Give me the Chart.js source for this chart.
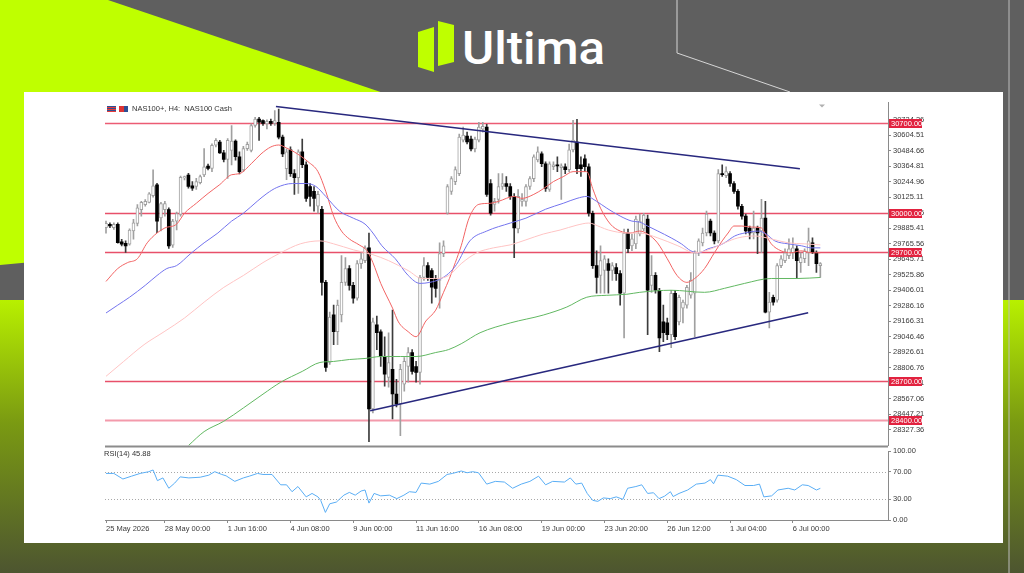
<!DOCTYPE html>
<html><head><meta charset="utf-8">
<script src="https://cdn.jsdelivr.net/npm/chart.js@4.4.1/dist/chart.umd.min.js"></script>
<style>
html,body{margin:0;padding:0;width:1024px;height:573px;overflow:hidden;background:#5f5f5f;}
#bg{position:absolute;left:0;top:0;}
#panel{position:absolute;left:24px;top:92px;width:979px;height:451px;background:#fff;}
canvas{position:absolute;}
#mainChart{left:100px;top:96px;}
#rsiChart{left:100px;top:442px;}
.t{position:absolute;font-family:"Liberation Sans",Arial,sans-serif;font-size:7.5px;color:#333;white-space:nowrap;line-height:8px;}
.ic{position:absolute;width:9px;height:6px;}
</style></head><body>
<svg id="bg" width="1024" height="573" xmlns="http://www.w3.org/2000/svg">
<defs>
<linearGradient id="fade" x1="0" y1="0" x2="0" y2="1">
<stop offset="0" stop-color="#b8f000"/>
<stop offset="0.45" stop-color="#7a9a12"/>
<stop offset="1" stop-color="#4d5530"/>
</linearGradient>
</defs>
<rect x="0" y="0" width="1024" height="573" fill="#5f5f5f"/>
<polygon points="0,0 108,0 700,200 0,265" fill="#bfff00"/>
<polygon points="0,300 1024,300 1024,573 0,573" fill="url(#fade)"/>
<polyline points="677,0 677,53 790,92" fill="none" stroke="#d6d6d6" stroke-width="1"/>
<line x1="1009" y1="0" x2="1009" y2="573" stroke="#bdbdbd" stroke-width="1"/>
<polygon points="418,32 434,27 434,72 418,67" fill="#bfff00"/>
<polygon points="438,21 454,25 454,62 438,66" fill="#bfff00"/>
<text x="462" y="64" font-family="Roboto, 'Open Sans', sans-serif" font-weight="500" font-size="46" fill="#ffffff" textLength="143" lengthAdjust="spacingAndGlyphs">Ultima</text>
</svg>
<div id="panel"></div>
<canvas id="mainChart" width="850" height="356"></canvas>
<canvas id="rsiChart" width="850" height="100"></canvas>
<div class="ic" style="left:107px;top:106px;background:repeating-linear-gradient(#2d4f93 0 1px,#e53b3b 1px 2px);"></div>
<div class="ic" style="left:119px;top:106px;background:linear-gradient(90deg,#d33 0 50%,#2d4f93 50% 100%);"></div>
<div class="t" style="left:132px;top:105px;">NAS100+, H4:&nbsp; NAS100 Cash</div>
<div class="t" style="left:104px;top:450px;">RSI(14) 45.88</div>
<script>
// ---------- DATA ----------
const barOpen = [29890,29916,29890,29916,29780,29770,29763,29865,29923,30030,
30069,30086,30138,30222,29966,30030,30030,29755,29941,29992,
30275,30298,30214,30209,30239,30298,30367,30349,30528,30553,
30469,30418,30489,30561,30439,30337,30502,30489,30681,30731,
30719,30693,30714,30698,30706,30591,30347,30492,30308,30278,
30477,30377,30209,30171,30056,30033,29467,28847,29215,29085,
29215,29467,29574,29444,29344,29612,29635,29735,28488,29138,
29085,28893,28732,28794,28603,28526,28679,28816,28924,28816,
28770,29505,29597,29559,29497,29482,29689,30002,30171,30247,
30308,30568,30599,30576,30500,30568,30652,30668,30232,30071,
30109,30209,30232,30209,30133,29880,30094,30094,30209,30270,
30415,30461,30385,30186,30362,30377,30354,30362,30339,30492,
30553,30377,30423,30362,30002,29597,29521,29559,29612,29559,
29581,29535,29383,29849,29750,29765,29841,29880,29956,29444,
29521,29406,29161,29153,29062,29383,29161,29268,29291,29368,
29383,29696,29773,29849,29941,29849,29788,30308,30293,30308,
30232,30171,30056,29980,29888,29849,29888,29865,29964,29237,
29352,29329,29597,29635,29674,29696,29727,29620,29650,29696,
29773,29696,29597];
const barHigh = [29941,29928,29928,29928,29801,29788,29882,29954,30069,30094,
30107,30162,30337,30234,30086,30094,30043,29954,30010,30290,
30290,30311,30247,30272,30298,30502,30382,30540,30579,30566,
30489,30579,30681,30571,30477,30520,30553,30693,30745,30745,
30724,30724,30731,30796,30808,30607,30500,30515,30339,30492,
30576,30400,30232,30209,30171,30056,29482,29237,29291,29329,
29674,29658,29597,29467,29635,29696,29750,29849,29191,29207,
29100,29046,29077,29253,28717,28832,28885,28962,28947,28855,
29521,29658,29620,29574,29521,29773,29788,30224,30286,30362,
30614,30668,30630,30599,30591,30706,30706,30691,30262,30117,
30308,30308,30286,30232,30155,30186,30155,30224,30286,30454,
30515,30477,30400,30400,30400,30439,30385,30385,30538,30721,
30729,30439,30454,30385,30018,29712,29750,29674,29650,29620,
29612,29559,29880,29880,29841,29980,29995,30002,29987,29674,
29543,29421,29291,29191,29406,29406,29368,29329,29444,29543,
29712,29803,29888,30018,29956,29865,30339,30377,30362,30324,
30247,30186,30071,29995,29903,30018,29903,30109,30094,29390,
29368,29612,29674,29727,29803,29811,29750,29696,29727,29888,
29811,29712,29620];
const barLow = [29847,29890,29877,29770,29750,29699,29755,29801,29903,29980,
30056,30081,30127,29852,29865,29980,29729,29737,29872,29980,
30259,30196,30179,30186,30229,30285,30337,30324,30515,30464,
30400,30272,30375,30413,30306,30324,30489,30477,30668,30566,
30681,30655,30681,30681,30578,30439,30262,30286,30148,30155,
30354,30094,30056,30018,30002,29368,28778,28832,28985,28985,
29161,29444,29406,29306,29329,29574,29620,28235,28457,28947,
28816,28663,28656,28411,28503,28281,28625,28694,28756,28694,
28679,29482,29482,29306,29352,29268,29666,29995,30148,30224,
30293,30553,30538,30484,30477,30553,30630,30133,29987,30018,
30079,30186,30171,30109,29658,29849,30056,30056,30186,30247,
30400,30362,30171,30171,30339,30324,30109,30308,30324,30477,
30308,30286,30324,29980,29574,29383,29383,29383,29383,29482,
29482,29291,29038,29696,29712,29727,29827,29865,29062,29390,
29383,28931,29008,29023,28962,29023,29138,29153,29268,29344,
29046,29674,29750,29827,29827,29765,29773,30286,30278,30209,
30155,30033,29956,29841,29803,29803,29689,29696,29230,29115,
29291,29314,29581,29620,29650,29650,29497,29543,29620,29597,
29689,29543,29505];
const barClose = [29923,29903,29916,29775,29763,29750,29872,29928,30043,30086,
30094,30153,30214,29941,30076,30076,29750,29941,30000,30280,
30285,30209,30196,30247,30285,30362,30349,30528,30566,30469,
30418,30566,30561,30439,30324,30502,30535,30681,30731,30706,
30698,30714,30698,30719,30591,30461,30477,30308,30278,30477,
30377,30117,30133,30117,30148,29467,28809,29199,29085,29291,
29467,29574,29444,29344,29612,29650,29735,28488,29161,29077,
28893,28756,28847,28603,28526,28794,28855,28924,28778,28770,
29505,29597,29505,29429,29421,29689,29750,30209,30270,30339,
30591,30607,30553,30500,30576,30668,30675,30148,30002,30094,
30209,30232,30209,30133,29888,30133,30109,30209,30270,30439,
30477,30385,30194,30385,30377,30369,30369,30339,30492,30568,
30346,30346,30362,30002,29597,29505,29635,29650,29559,29597,
29535,29383,29849,29727,29803,29956,29941,29987,29406,29521,
29406,29038,29077,29062,29383,29046,29352,29314,29429,29482,
29696,29788,29849,29995,29849,29788,30308,30300,30324,30232,
30171,30056,29980,29865,29849,29888,29849,29964,29237,29314,
29314,29597,29650,29696,29727,29735,29635,29658,29712,29788,
29696,29612,29612];

// moving averages (bar index, price)
const maRedX = [0,3,5.5,8,10.5,13,15,18,20,23,26,29,32,34,37,39.5,42,44,46,48,51.5,54,56,58,60,62,64.5,66.5,68,70,73,74.5,77,79,81.5,84,86,87.5,89,90.5,92.5,95,98,100,104,106,109,111.5,114,116.5,119,122.5,124,126,128.5,131,133.5,136,138,140.5,143,145.5,148,150,152.5,155,157,158.5,160,162,164.5,167,168,169.5,172,174.5,177,180,182];
const maRedY = [29474,29574,29620,29650,29773,29849,29888,29918,30002,30079,30155,30224,30300,30308,30385,30461,30515,30530,30507,30476,30400,30324,30171,29979,29864,29803,29757,29712,29620,29459,29268,29161,29085,29046,29168,29252,29390,29497,29620,29750,29964,30071,30079,30094,30132,30117,30148,30193,30247,30285,30324,30324,30193,30041,29918,29864,29849,29864,29841,29773,29650,29520,29467,29497,29574,29696,29788,29849,29903,29903,29895,29888,29841,29765,29711,29696,29711,29696,29696];
const maBlueX = [0,3,6,10,13,15.5,18,21.5,25,28.5,32,35,38.5,41,43.5,47.5,51,53.5,56,59.5,63,66,68,70.3,73.7,77,80,82.5,85,87.3,89.3,92.7,97,103,107,112,116.5,120,122.5,125,127.6,131,134,136,138,140.6,144,146.6,149,151,153.4,156,157.6,160.2,162.7,166.2,168.2,170.4,173.8,177.2,179.7,182];
const maBlueY = [29230,29291,29352,29444,29520,29574,29597,29688,29773,29849,29941,30002,30094,30155,30201,30232,30232,30209,30132,30018,29964,29918,29849,29750,29650,29520,29459,29467,29490,29536,29605,29788,29864,29926,29964,30033,30079,30117,30132,30094,30041,29980,29941,29933,29903,29864,29811,29765,29711,29696,29727,29750,29773,29826,29849,29864,29841,29788,29765,29750,29734,29734];
const maPinkX = [0,4.5,9.7,14.8,20,25,30,35,40,44.5,49.5,54.5,58,63,68,72,77,80.5,84,87.3,90.5,94.5,98.7,103,107,111.4,115.7,120,123,126,128,132.7,136,140.6,145.7,150,154.2,157.6,161,165.3,169.5,173.8,178,182];
const maPinkY = [28740,28855,28985,29085,29191,29314,29428,29520,29620,29696,29765,29788,29765,29719,29681,29635,29558,29497,29497,29520,29612,29696,29734,29757,29796,29841,29872,29910,29926,29895,29872,29849,29849,29811,29750,29696,29727,29773,29811,29826,29803,29773,29765,29757];
const maGreenX = [21,25,30,35,40,44.5,50,54.5,58,62,66,70,75,79,84,87.3,90.5,95.3,103,111.4,117.4,122.5,127.6,132.7,136,144,152.5,157.6,162.7,169.5,176.3,182];
const maGreenY = [28204,28312,28392,28495,28602,28694,28778,28847,28855,28870,28878,28893,28893,28893,28924,28947,28992,29077,29153,29214,29276,29352,29367,29375,29390,29406,29390,29421,29459,29497,29497,29505];

// trend lines (bar index, price)
const upperTrendX = [43.3, 176.8];
const upperTrendY = [30828, 30346];
const lowerTrendX = [67.3, 178.9];
const lowerTrendY = [28474, 29232];

// horizontal levels
const levelValues = [30700, 30000, 29700, 28700, 28400];

// price axis tick labels
const priceTicks = [28327.36,28447.21,28567.06,28686.91,28806.76,28926.61,29046.46,29166.31,29286.16,29406.01,29525.86,29645.71,29765.56,29885.41,30005.26,30125.11,30244.96,30364.81,30484.66,30604.51,30724.36];

// time axis
const timeTickBars = [0,15,31,47,63,79,95,111,127,143,159,175];
const timeTickLabels = ["25 May 2026","28 May 00:00","1 Jun 16:00","4 Jun 08:00","9 Jun 00:00","11 Jun 16:00","16 Jun 08:00","19 Jun 00:00","23 Jun 20:00","26 Jun 12:00","1 Jul 04:00","6 Jul 00:00"];

// RSI(14)
const rsiX = [0,2,4.3,6.5,8.7,10.9,12,13.1,14.5,16,17.5,18.9,21.1,24,26.2,27.7,29.5,30.6,32.8,35,36.5,38.6,40,42.3,44.5,46,47.4,48.9,51,52.5,54,54.7,55.9,57,58.7,60.6,62,63.5,65,66,67,68.3,70,72.2,74.1,75.9,77.3,79,80.3,82.5,84.7,86.9,88.3,90.5,92,93.4,94.9,97,99.2,101.5,103.6,105.8,108,110.2,112,113.8,116.8,118.3,119.7,121.2,122.6,124,125.3,126.7,128.5,130,131.7,132.9,135,136.5,138,139.5,140.9,142.3,143.8,144.5,146,148.2,150.4,152.6,154,154.8,155.9,158.4,160.6,162.8,165,166.5,167.6,169.6,171.2,173.8,175.5,177.4,178.9,181,182];
const rsiV = [67.5,67.5,59.4,63.5,67.5,70,72.5,57,61,46,53.5,62.5,61,62,65,70,66,64,56,61,63.5,67.5,66,66,51,51,41,48.5,33.5,38.5,33.5,28.5,11,23.5,26,36,40,36,42,43.5,24.5,38.5,35,36,31,36,41,40,53.5,52,56,66,67.5,71,68.5,70,68.5,52,56,55,46,52,56,63.5,51,56,55,61,52,53.5,38.5,28.5,27,32,31,33.5,30,46,48.5,51,38.5,39.5,31,34.5,41,34,38.5,43.5,52,53.5,58.5,52.5,65,63.5,58.5,50,50,52,33.5,35,43.5,46,43.5,51,50,43.5,45.88];
const rsiLevels = [30, 70];
const rsiTicks = [0, 30, 70, 100];

// ---------- CHARTS ----------
Chart.defaults.font.family = '"Liberation Sans", Arial, sans-serif';
Chart.defaults.font.size = 7.5;
Chart.defaults.color = '#3a3a3a';

const X_MIN = -0.255, X_MAX = 199.24;
const P_MIN = 28204.45, P_MAX = 30859;

const idx = barOpen.map((_, i) => i);
const bull = idx.filter(i => barClose[i] >= barOpen[i]);
const bear = idx.filter(i => barClose[i] < barOpen[i]);
const pts = (xs, ys) => xs.map((x, k) => ({x: x, y: ys[k]}));

const levelColors = ['#ec5c74', '#e8506a', '#e8506a', '#e8506a', '#f39aab'];
const levelWidths = [1.3, 1.3, 1.3, 1.3, 2];

const ds = [];
ds.push({type: 'bar', data: bull.map(i => ({x: i, y: [barLow[i], barHigh[i]]})), backgroundColor: '#a0a0a0',
  barThickness: 1, grouped: false, order: 30});
ds.push({type: 'bar', data: bear.map(i => ({x: i, y: [barLow[i], barHigh[i]]})), backgroundColor: '#3c3c3c',
  barThickness: 1, grouped: false, order: 30});
ds.push({type: 'bar', data: bull.map(i => ({x: i, y: [barOpen[i], barClose[i]]})), backgroundColor: '#ffffff',
  borderColor: '#a0a0a0', borderWidth: 1, borderSkipped: false, barThickness: 3, minBarLength: 1, grouped: false, order: 20});
ds.push({type: 'bar', data: bear.map(i => ({x: i, y: [barClose[i], barOpen[i]]})), backgroundColor: '#000000',
  barThickness: 3, minBarLength: 1, grouped: false, order: 20});
const maStyle = {type: 'line', pointRadius: 0, borderWidth: 1, cubicInterpolationMode: 'monotone', fill: false, order: 10};
ds.push(Object.assign({}, maStyle, {data: pts(maPinkX, maPinkY), borderColor: '#ffc4c4'}));
ds.push(Object.assign({}, maStyle, {data: pts(maGreenX, maGreenY), borderColor: '#62b862'}));
ds.push(Object.assign({}, maStyle, {data: pts(maBlueX, maBlueY), borderColor: '#7474ee'}));
ds.push(Object.assign({}, maStyle, {data: pts(maRedX, maRedY), borderColor: '#f26464'}));
ds.push({type: 'line', data: pts(upperTrendX, upperTrendY), borderColor: '#28287e', borderWidth: 1.6, pointRadius: 0, order: 5});
ds.push({type: 'line', data: pts(lowerTrendX, lowerTrendY), borderColor: '#28287e', borderWidth: 1.6, pointRadius: 0, order: 5});

const mainDecor = {
  id: 'mainDecor',
  beforeDatasetsDraw(chart) {
    const c = chart.ctx, a = chart.chartArea, y = chart.scales.y;
    c.save();
    levelValues.forEach((v, k) => {
      const py = Math.round(y.getPixelForValue(v)) + 0.5;
      c.strokeStyle = levelColors[k];
      c.lineWidth = levelWidths[k];
      c.beginPath(); c.moveTo(a.left, py); c.lineTo(a.right, py); c.stroke();
    });
    c.restore();
  },
  afterDraw(chart) {
    const c = chart.ctx, a = chart.chartArea, y = chart.scales.y;
    c.save();
    c.fillStyle = '#8c8c8c';
    c.fillRect(a.left, a.bottom, a.right - a.left, 2);
    c.font = '7.5px "Liberation Sans", Arial, sans-serif';
    c.textBaseline = 'middle';
    levelValues.forEach(v => {
      const py = Math.round(y.getPixelForValue(v));
      c.fillStyle = '#e2223f';
      c.fillRect(a.right + 1, py - 4, 33, 9);
      c.fillStyle = '#ffffff';
      c.fillText(v.toFixed(2), a.right + 3, py + 1);
    });
    c.fillStyle = '#b0b0b0';
    c.beginPath(); c.moveTo(a.right - 69, a.top + 2); c.lineTo(a.right - 63, a.top + 2); c.lineTo(a.right - 66, a.top + 5); c.closePath(); c.fill();
    c.restore();
  }
};

new Chart(document.getElementById('mainChart'), {
  type: 'bar',
  data: {datasets: ds},
  options: {
    responsive: false, animation: false, devicePixelRatio: 1,
    layout: {padding: {left: 5, top: 4, right: 0, bottom: 5}},
    plugins: {legend: {display: false}, tooltip: {enabled: false}},
    scales: {
      x: {type: 'linear', min: X_MIN, max: X_MAX, display: false, offset: false},
      y: {
        position: 'right', min: P_MIN, max: P_MAX,
        afterFit: s => { s.width = 62; },
        afterBuildTicks: s => { s.ticks = priceTicks.map(v => ({value: v})); },
        ticks: {callback: v => Number(v).toFixed(2), padding: 2, autoSkip: false, color: '#3a3a3a'},
        grid: {drawOnChartArea: false, tickLength: 3, color: '#8a8a8a'},
        border: {color: '#8a8a8a'}
      }
    }
  },
  plugins: [mainDecor]
});

const rsiDecor = {
  id: 'rsiDecor',
  beforeDatasetsDraw(chart) {
    const c = chart.ctx, a = chart.chartArea, y = chart.scales.y;
    c.save();
    c.strokeStyle = '#a8a8a8'; c.lineWidth = 1; c.setLineDash([1, 2]);
    rsiLevels.forEach(v => {
      const py = Math.round(y.getPixelForValue(v)) + 0.5;
      c.beginPath(); c.moveTo(a.left, py); c.lineTo(a.right, py); c.stroke();
    });
    c.restore();
  }
};

new Chart(document.getElementById('rsiChart'), {
  type: 'line',
  data: {datasets: [{data: pts(rsiX, rsiV), borderColor: '#5aaef5', borderWidth: 1, pointRadius: 0, tension: 0}]},
  options: {
    responsive: false, animation: false, devicePixelRatio: 1,
    layout: {padding: {left: 5, top: 9, right: 0, bottom: 0}},
    plugins: {legend: {display: false}, tooltip: {enabled: false}},
    scales: {
      x: {
        type: 'linear', min: X_MIN, max: X_MAX, offset: false,
        afterFit: s => { s.height = 22; },
        afterBuildTicks: s => { s.ticks = timeTickBars.map(v => ({value: v})); },
        ticks: {callback: (v, i) => timeTickLabels[i], autoSkip: false, maxRotation: 0, align: 'start', padding: 1, color: '#3a3a3a'},
        grid: {drawOnChartArea: false, tickLength: 3, color: '#8a8a8a'},
        border: {color: '#8a8a8a'}
      },
      y: {
        position: 'right', min: 0, max: 100,
        afterFit: s => { s.width = 62; },
        afterBuildTicks: s => { s.ticks = rsiTicks.map(v => ({value: v})); },
        ticks: {callback: v => Number(v).toFixed(2), padding: 2, autoSkip: false, color: '#3a3a3a'},
        grid: {drawOnChartArea: false, tickLength: 3, color: '#8a8a8a'},
        border: {color: '#8a8a8a'}
      }
    }
  },
  plugins: [rsiDecor]
});
</script>
</body></html>
